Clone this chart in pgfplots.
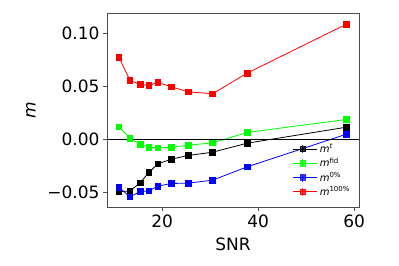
\documentclass[border=0pt]{standalone}
\usepackage{pgfplots}
\pgfplotsset{compat=1.18}
\usepackage{fontspec}
\setmainfont{DejaVu Sans}
\definecolor{mred}{RGB}{255,0,0}
\definecolor{mgreen}{RGB}{0,255,0}
\definecolor{mblue}{RGB}{0,0,255}
\begin{document}
\begin{tikzpicture}
\begin{axis}[
  scale only axis, width=252bp, height=194bp,
  xmin=8.5, xmax=61, ymin=-0.064, ymax=0.119,
  xtick={20,40,60}, xticklabels={20,40,60},
  ytick={-0.05,0,0.05,0.10}, yticklabels={−0.05,0.00,0.05,0.10},
  tick align=outside, tick pos=left,
  major tick length=4bp,
  axis line style={black!70, line width=0.6bp},
  tick style={black!70, line width=0.6bp},
  ticklabel style={font=\fontsize{17bp}{20bp}\selectfont},
  xlabel={SNR}, ylabel={\textit{m}},
  label style={font=\fontsize{17bp}{20bp}\selectfont},
  xlabel style={yshift=-4bp},
  ylabel style={yshift=5bp},
  legend style={at={(0.985,0.03)}, anchor=south east, draw=none, fill=none,
    font=\fontsize{10bp}{12bp}\selectfont, row sep=0bp},
  legend cell align=left,
  legend image code/.code={
    \path (0bp,0bp) -- (24bp,0bp);
    \draw[#1,mark=none,opacity=0.75] (0bp,0bp) -- (19bp,0bp);
    \draw[#1,mark=none,opacity=0.75] (9.5bp,-4bp) -- (9.5bp,4bp);
    \draw[#1,opacity=0.75] plot coordinates {(9.5bp,0bp)};
  },
  every axis plot/.append style={line width=0.8bp, mark=square*, mark size=2.8bp},
]
\addplot[black, mark options={fill=black}] coordinates {
(11.0,-0.0497) (13.3,-0.0488) (15.4,-0.0412) (17.2,-0.0315) (19.1,-0.0233) (21.9,-0.0189) (25.4,-0.0154) (30.5,-0.0123) (37.7,-0.0038) (58.4,0.0113)};
\addlegendentry{\textit{m}\textsuperscript{\textit{t}}}
\addplot[mgreen, mark options={fill=mgreen}] coordinates {
(11.0,0.0116) (13.3,0.0009) (15.4,-0.0050) (17.2,-0.0075) (19.1,-0.0082) (21.9,-0.0078) (25.4,-0.0057) (30.5,-0.0035) (37.7,0.0063) (58.4,0.0186)};
\addlegendentry{\textit{m}\textsuperscript{fid}}
\addplot[mblue, mark options={fill=mblue}] coordinates {
(11.0,-0.0456) (13.3,-0.0544) (15.4,-0.0494) (17.2,-0.0488) (19.1,-0.0443) (21.9,-0.0418) (25.4,-0.0415) (30.5,-0.0387) (37.7,-0.0261) (58.4,0.0047)};
\addlegendentry{\textit{m}\textsuperscript{0\%}}
\addplot[mred, mark options={fill=mred}] coordinates {
(11.0,0.0771) (13.3,0.0554) (15.4,0.0516) (17.2,0.0506) (19.1,0.0535) (21.9,0.0494) (25.4,0.0447) (30.5,0.0428) (37.7,0.0623) (58.4,0.1085)};
\addlegendentry{\textit{m}\textsuperscript{100\%}}
\draw[black, line width=0.9bp] (axis cs:8.5,0) -- (axis cs:61,0);
\end{axis}
\path (current axis.south west) ++(-107bp,-59bp) rectangle ++(399bp,266bp);
\end{tikzpicture}
\end{document}
